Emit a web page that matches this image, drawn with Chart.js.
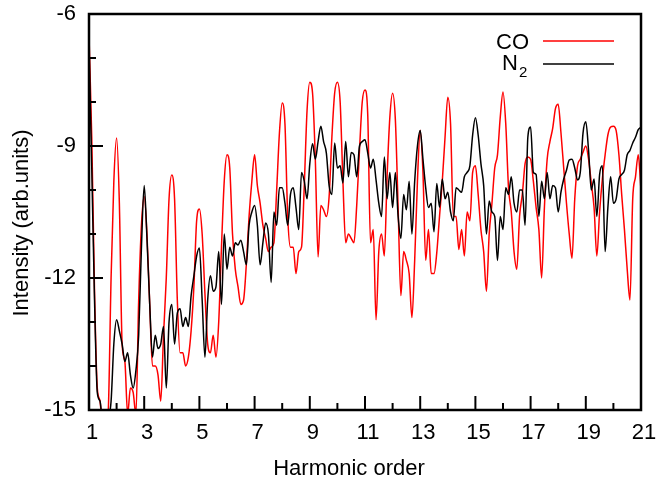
<!DOCTYPE html>
<html>
<head>
<meta charset="utf-8">
<title>CO / N2 harmonic spectra</title>
<script src="https://cdn.jsdelivr.net/npm/chart.js@4.4.1/dist/chart.umd.min.js"></script>
<style>
  html, body { margin: 0; padding: 0; background: #fff; }
  canvas { display: block; }
</style>
</head>
<body>
<canvas id="myChart" width="656" height="481"></canvas>
<script>
// Harmonic order (x), sampled every 0.1
var harmonicOrder = [
  1.0, 1.1, 1.2, 1.3, 1.4, 1.5, 1.6, 1.7, 1.8, 1.9,
  2.0, 2.1, 2.2, 2.3, 2.4, 2.5, 2.6, 2.7, 2.8, 2.9,
  3.0, 3.1, 3.2, 3.3, 3.4, 3.5, 3.6, 3.7, 3.8, 3.9,
  4.0, 4.1, 4.2, 4.3, 4.4, 4.5, 4.6, 4.7, 4.8, 4.9,
  5.0, 5.1, 5.2, 5.3, 5.4, 5.5, 5.6, 5.7, 5.8, 5.9,
  6.0, 6.1, 6.2, 6.3, 6.4, 6.5, 6.6, 6.7, 6.8, 6.9,
  7.0, 7.1, 7.2, 7.3, 7.4, 7.5, 7.6, 7.7, 7.8, 7.9,
  8.0, 8.1, 8.2, 8.3, 8.4, 8.5, 8.6, 8.7, 8.8, 8.9,
  9.0, 9.1, 9.2, 9.3, 9.4, 9.5, 9.6, 9.7, 9.8, 9.9,
  10.0, 10.1, 10.2, 10.3, 10.4, 10.5, 10.6, 10.7, 10.8, 10.9,
  11.0, 11.1, 11.2, 11.3, 11.4, 11.5, 11.6, 11.7, 11.8, 11.9,
  12.0, 12.1, 12.2, 12.3, 12.4, 12.5, 12.6, 12.7, 12.8, 12.9,
  13.0, 13.1, 13.2, 13.3, 13.4, 13.5, 13.6, 13.7, 13.8, 13.9,
  14.0, 14.1, 14.2, 14.3, 14.4, 14.5, 14.6, 14.7, 14.8, 14.9,
  15.0, 15.1, 15.2, 15.3, 15.4, 15.5, 15.6, 15.7, 15.8, 15.9,
  16.0, 16.1, 16.2, 16.3, 16.4, 16.5, 16.6, 16.7, 16.8, 16.9,
  17.0, 17.1, 17.2, 17.3, 17.4, 17.5, 17.6, 17.7, 17.8, 17.9,
  18.0, 18.1, 18.2, 18.3, 18.4, 18.5, 18.6, 18.7, 18.8, 18.9,
  19.0, 19.1, 19.2, 19.3, 19.4, 19.5, 19.6, 19.7, 19.8, 19.9,
  20.0, 20.1, 20.2, 20.3, 20.4, 20.5, 20.6, 20.7, 20.8, 20.9,
  21.0
];

// CO intensity (red)
var coIntensity = [
  -6.5, -8.8, -12.3, -14.5, -14.8, -15.5, -15.5, -15.0, -12.0, -9.8,
  -8.82, -10.3, -13.5, -13.9, -15.1, -14.5, -14.6, -15.1, -12.5, -10.8,
  -10.15, -11.0, -12.6, -14.0, -14.0, -14.2, -14.8, -13.3, -12.0, -10.2,
  -9.66, -10.2, -12.5, -13.7, -13.7, -14.0, -13.8, -13.2, -12.2, -10.7,
  -10.43, -11.0, -12.35, -13.5, -13.7, -13.3, -13.8, -13.0, -11.3, -9.8,
  -9.2, -9.5, -11.0, -11.8, -12.2, -12.6, -12.5, -11.7, -10.6, -9.8,
  -9.2, -9.9, -10.3, -10.8, -11.1, -11.4, -11.3, -11.2, -10.0, -8.7,
  -8.02, -8.5, -10.6, -11.3, -11.3, -11.9, -11.4, -11.3, -9.9, -8.2,
  -7.55, -7.8, -9.3, -11.52, -10.35, -10.45, -10.6, -10.15, -8.8, -7.8,
  -7.55, -8.0, -9.8, -11.2, -11.0, -11.1, -11.2, -10.35, -9.1, -8.0,
  -7.73, -8.3, -11.2, -10.9, -12.95, -11.4, -11.0, -11.5, -9.7, -8.35,
  -7.8, -8.4, -10.4, -12.4, -11.4, -11.6, -11.9, -12.9, -11.6, -9.8,
  -8.64, -9.6, -11.6, -10.9, -11.9, -11.9, -11.43, -10.6, -9.8, -8.8,
  -7.89, -8.5, -10.6, -10.6, -11.35, -10.9, -11.5, -10.5, -10.7, -9.6,
  -9.45, -10.1, -10.9, -11.4, -12.3, -11.0, -10.3, -9.5, -9.2, -8.35,
  -7.77, -8.5, -9.95, -10.5, -11.4, -11.8, -10.6, -10.1, -9.4, -9.25,
  -9.3, -9.8, -10.4, -10.9, -12.0, -10.4, -9.3, -8.9, -8.6, -8.15,
  -8.05, -8.7, -9.5, -10.3, -11.0, -11.55, -10.2, -9.45, -9.3, -9.14,
  -9.0, -9.3, -9.85, -10.4, -11.5, -10.5, -9.75, -9.2, -8.75, -8.57,
  -8.55, -8.65, -9.2, -10.1, -10.9, -11.8, -12.5, -10.2, -9.7, -9.2,
  -10.0
];

// N2 intensity (black)
var n2Intensity = [
  -6.7, -9.5, -12.5, -14.6, -14.8, -15.3, -15.3, -15.2, -14.8, -13.5,
  -12.95, -13.2, -13.5, -13.9, -13.7, -14.2, -14.5, -14.1, -13.3, -11.3,
  -9.9, -11.1, -12.6, -13.8, -13.3, -13.6, -13.5, -13.1, -14.5, -13.0,
  -12.6, -13.5, -12.8, -12.7, -13.1, -12.9, -13.1, -12.4, -11.95, -11.5,
  -11.32, -12.5, -13.8, -12.5, -11.95, -12.3, -12.2, -11.4, -12.6, -11.0,
  -11.8, -11.3, -11.5, -11.2, -11.25, -11.14, -11.4, -11.7, -10.8, -10.5,
  -10.35, -10.8, -11.7, -11.2, -10.75, -11.0, -12.1, -10.5, -10.8, -9.95,
  -9.95, -10.3, -10.8, -10.1, -9.95, -10.4, -10.9, -9.6, -9.8, -10.2,
  -9.4, -8.95, -9.3, -8.9, -8.55, -8.9, -9.16, -9.9, -10.1, -8.93,
  -9.5, -9.45, -9.84, -8.9, -9.7, -9.15, -9.2, -9.7, -9.0, -8.9,
  -8.86, -9.16, -9.5, -9.3, -9.77, -10.3, -10.6, -9.25, -10.2, -9.6,
  -10.4, -9.6, -10.6, -11.1, -10.1, -10.45, -9.8, -11.0, -9.8, -9.0,
  -8.65, -9.3, -9.95, -10.4, -10.3, -10.95, -9.85, -10.39, -9.75, -10.2,
  -10.05, -10.5, -10.7, -9.95, -10.0, -10.05, -9.7, -9.6, -9.45, -8.75,
  -8.36, -8.75, -9.4, -9.9, -11.0, -10.25, -10.5, -10.6, -11.6, -10.6,
  -10.9, -9.95, -10.1, -9.7, -10.3, -10.5, -10.0, -10.0, -10.8, -8.8,
  -8.57, -9.6, -9.65, -10.6, -9.8, -10.2, -9.6, -10.2, -9.9, -9.95,
  -10.5, -10.05, -9.75, -9.55, -9.32, -9.3, -9.5, -9.77, -9.6, -8.7,
  -8.45, -9.1, -10.0, -9.75, -10.6, -9.65, -9.45, -11.4, -10.4, -9.7,
  -10.3, -10.2, -9.75, -9.65, -9.55, -9.2, -9.1, -8.93, -8.8, -8.63,
  -8.57
];

// Tick values
var xTicks = [1, 3, 5, 7, 9, 11, 13, 15, 17, 19, 21];
var xMinorTicks = [2, 4, 6, 8, 10, 12, 14, 16, 18, 20];
var yTicks = [-15, -12, -9, -6];
var yMinorTicks = [-14, -13, -11, -10, -8, -7];

var fontFamily = '"Liberation Sans", Arial, Helvetica, sans-serif';
Chart.defaults.font.family = fontFamily;
Chart.defaults.color = '#000';

function toPoints(ys) {
  return ys.map(function (y, i) { return { x: harmonicOrder[i], y: y }; });
}

// Frame, inward ticks, axis titles and legend (gnuplot style)
var framePlugin = {
  id: 'frame',
  afterDraw: function (chart) {
    var c = chart.ctx;
    var a = chart.chartArea;
    var xs = chart.scales.x;
    var ys = chart.scales.y;
    c.save();
    c.strokeStyle = '#000';

    c.lineWidth = 2;
    xTicks.forEach(function (v) {
      var px = xs.getPixelForValue(v);
      c.beginPath(); c.moveTo(px, a.bottom); c.lineTo(px, a.bottom - 14); c.stroke();
    });
    xMinorTicks.forEach(function (v) {
      var px = xs.getPixelForValue(v);
      c.beginPath(); c.moveTo(px, a.bottom); c.lineTo(px, a.bottom - 7); c.stroke();
    });
    yTicks.forEach(function (v) {
      var py = ys.getPixelForValue(v);
      c.beginPath(); c.moveTo(a.left, py); c.lineTo(a.left + 14, py); c.stroke();
    });
    yMinorTicks.forEach(function (v) {
      var py = ys.getPixelForValue(v);
      c.beginPath(); c.moveTo(a.left, py); c.lineTo(a.left + 7, py); c.stroke();
    });

    c.lineWidth = 2.5;
    c.strokeRect(a.left, a.top, a.right - a.left, a.bottom - a.top);

    // axis titles
    c.fillStyle = '#000';
    c.font = '22px ' + fontFamily;
    c.textAlign = 'center';
    c.textBaseline = 'alphabetic';
    c.fillText('Harmonic order', 349, 475);
    c.save();
    c.translate(28, 223);
    c.rotate(-Math.PI / 2);
    c.fillText('Intensity (arb.units)', 0, 0);
    c.restore();

    // legend
    c.textAlign = 'right';
    c.fillText('CO', 529, 49);
    c.fillText('N', 518, 70);
    c.textAlign = 'left';
    c.font = '15px ' + fontFamily;
    c.fillText('2', 519, 77);

    c.lineWidth = 1.5;
    c.strokeStyle = 'rgb(255, 0, 0)';
    c.beginPath(); c.moveTo(543, 41); c.lineTo(614, 41); c.stroke();
    c.strokeStyle = '#000';
    c.beginPath(); c.moveTo(543, 64); c.lineTo(614, 64); c.stroke();
    c.restore();
  }
};

var ctx = document.getElementById('myChart').getContext('2d');

var data = {
  datasets: [{
    label: 'CO',
    data: toPoints(coIntensity),
    borderColor: 'rgb(255, 0, 0)',
    borderWidth: 1.5,
    order: 2
  }, {
    label: 'N2',
    data: toPoints(n2Intensity),
    borderColor: '#000',
    borderWidth: 1.5,
    order: 1
  }]
};

var options = {
  responsive: false,
  animation: false,
  devicePixelRatio: 1,
  layout: { padding: { top: 14, right: 15, bottom: 0, left: 0 } },
  elements: {
    point: { radius: 0 },
    line: { cubicInterpolationMode: 'monotone', fill: false }
  },
  plugins: {
    legend: { display: false },
    tooltip: { enabled: false }
  },
  scales: {
    x: {
      type: 'linear',
      min: 1,
      max: 21,
      afterBuildTicks: function (s) { s.ticks = xTicks.map(function (v) { return { value: v }; }); },
      // fixed axis band; label overflow handled by layout padding
      afterFit: function (s) { s.height = 71; s.paddingLeft = 0; s.paddingRight = 0; },
      grid: { display: false, drawTicks: false },
      border: { display: false },
      ticks: { padding: 10, labelOffset: 3, maxRotation: 0, autoSkip: false, font: { size: 22 } }
    },
    y: {
      type: 'linear',
      min: -15,
      max: -6,
      afterBuildTicks: function (s) { s.ticks = yTicks.map(function (v) { return { value: v }; }); },
      afterFit: function (s) { s.width = 89; s.paddingTop = 0; s.paddingBottom = 0; },
      grid: { display: false, drawTicks: false },
      border: { display: false },
      ticks: { padding: 13, font: { size: 22 } }
    }
  }
};

var myChart = new Chart(ctx, {
  type: 'line',
  data: data,
  options: options,
  plugins: [framePlugin]
});
</script>
</body>
</html>
